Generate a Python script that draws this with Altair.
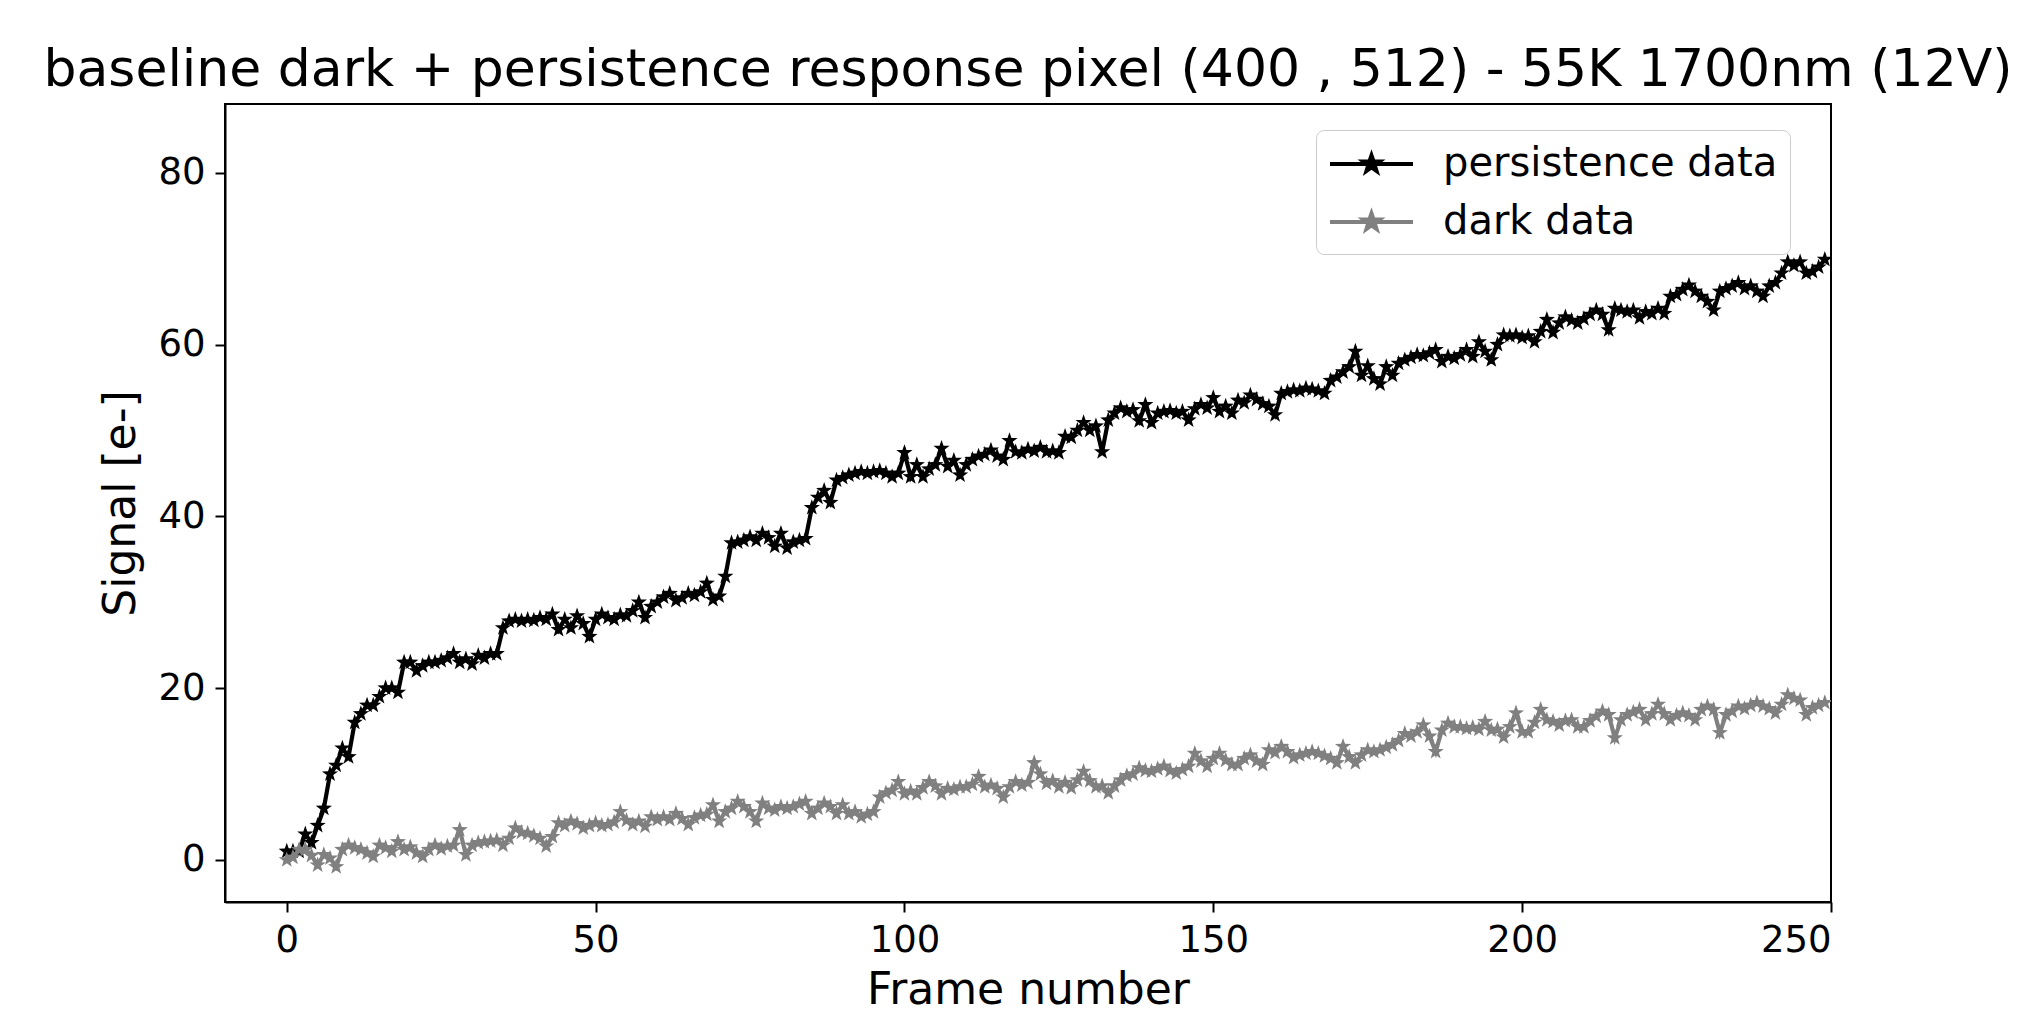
import altair as alt
import pandas as pd

series_names = ["\u2002persistence data", "dark data"]
series_colors = ["#000000", "#808080"]

x_ticks = [0, 50, 100, 150, 200, 250]
y_ticks = [0, 20, 40, 60, 80]

frames = list(range(250))

persistence = [
    1, 1, 1, 3, 2, 4, 6, 10, 11, 13,
    12, 16, 17, 18, 18, 19, 20, 20, 19.5, 23,
    23, 22, 22.6, 23, 23, 23.2, 23.5, 24, 23, 23.4,
    22.8, 23.8, 23.5, 24, 24, 27, 27.8, 28, 27.8, 28,
    27.9, 28.2, 28, 28.6, 26.8, 28, 27, 28.4, 27.5, 26,
    28, 28.6, 28.2, 28, 28.5, 28.4, 29, 30, 28.2, 29.5,
    30, 30.6, 31, 30.2, 30.5, 31, 30.8, 31.2, 32.2, 30.3,
    30.7, 33, 36.9, 37, 37.2, 37.6, 37.2, 38, 37.5, 36.5,
    38, 36.3, 37, 37.2, 37.4, 41, 42.2, 43, 41.6, 44.2,
    44.5, 44.8, 45, 45.2, 45, 45.2, 45.3, 45, 44.6, 45,
    47.4, 44.6, 46, 44.6, 45.5, 46, 47.9, 45.8, 46.5, 44.8,
    46, 46.6, 47, 47.2, 47.7, 47, 46.6, 48.8, 47.5, 47.4,
    47.8, 47.6, 48, 47.5, 47.6, 47.4, 49.3, 49.2, 50, 50.9,
    50, 50.5, 47.5, 51.2, 52, 52.6, 52.2, 52.4, 51.1, 53,
    50.9, 52, 52.2, 52.3, 52, 52.2, 51.2, 52.5, 53, 52.6,
    53.8, 52.2, 52.8, 52, 53.5, 53.2, 54.1, 53.6, 53.1, 52.8,
    51.8, 54.3, 54.5, 54.7, 54.6, 54.9, 54.8, 54.6, 54.3, 55.8,
    56.2, 56.8, 57.4, 59.2, 56.4, 57.5, 56, 55.4, 57.4, 56.4,
    57.8, 58.2, 58.5, 58.8, 58.7, 59, 59.4, 58, 58.6, 58.4,
    58.8, 59.4, 58.6, 60.3, 59.2, 58.2, 60, 61.1, 61, 61.1,
    60.8, 61, 60.3, 61.5, 62.9, 61.4, 62.5, 63.2, 62.8, 62.5,
    63, 63.5, 64, 63.5, 61.7, 64.2, 64, 63.8, 64, 63.1,
    63.8, 63.6, 64.2, 63.6, 65.6, 65.8, 66.4, 66.9, 66.2, 65.6,
    65, 64, 66.2, 66.5, 66.8, 67.2, 66.5, 66.8, 66.2, 65.6,
    66.8, 67.2, 68.3, 69.6, 69.2, 69.6, 68.3, 68.5, 69, 69.9,
]

dark = [
    0, 0.3, 1.2, 1.2, 0.5, -0.6, 0.6, 0.2, -0.8, 1.2,
    1.7, 1.4, 1.2, 0.8, 0.4, 1.7, 1.4, 1, 2.1, 1.2,
    1.5, 0.8, 0.4, 1.2, 1.7, 1.3, 1.6, 1.7, 3.5, 0.6,
    1.7, 2, 2.1, 2.2, 2.3, 1.7, 2.5, 3.7, 3.2, 3.1,
    2.8, 2.5, 1.6, 2.7, 4.3, 4, 4.5, 4.2, 3.7, 4,
    4.3, 4, 4.1, 4.4, 5.6, 4.6, 4.1, 4.5, 3.9, 5,
    4.7, 5, 4.7, 5.4, 4.8, 4.1, 4.9, 5.2, 5.3, 6.4,
    4.5, 5.6, 6, 6.8, 6.2, 5.6, 4.5, 6.6, 6, 5.8,
    6.2, 6, 6.2, 6.5, 6.8, 5.4, 6, 6.6, 6.2, 5.4,
    6.4, 5.4, 5.6, 5, 5.3, 5.6, 7.3, 7.8, 8.1, 9.1,
    7.7, 8, 7.7, 8.4, 9.1, 8.6, 7.7, 8.3, 8.2, 8.5,
    8.5, 8.8, 9.7, 8.5, 8.7, 8.3, 7.3, 8.5, 9.1, 8.7,
    9, 11.3, 10, 8.9, 9.2, 8.5, 9, 8.4, 9.3, 10.3,
    9.2, 8.5, 8.6, 7.8, 8.6, 9.3, 9.8, 10, 10.7, 10.4,
    10.3, 10.6, 10.9, 10.4, 10.1, 10.5, 10.9, 12.4, 11.5, 10.9,
    11.8, 12.4, 11.6, 11.1, 11.1, 11.8, 12.2, 11.5, 11.1, 12.8,
    12.5, 13.2, 12.6, 11.9, 12.2, 12.4, 12.6, 12.4, 12.1, 11.8,
    11.3, 13.2, 12, 11.3, 12.2, 12.8, 12.6, 12.8, 13.1, 13.4,
    13.9, 14.7, 14.4, 14.9, 15.7, 14.4, 12.6, 15.1, 15.9, 15.5,
    15.5, 15.3, 15.4, 15.2, 16.1, 15.1, 15.2, 14.3, 15.5, 17.1,
    14.9, 14.9, 16, 17.5, 16.3, 16.1, 15.7, 16.2, 16.3, 15.5,
    15.5, 16.2, 16.7, 17.3, 16.9, 14.2, 16.3, 16.9, 17.2, 17.5,
    16.3, 17, 18.1, 17, 16.3, 16.8, 17.1, 16.8, 16.3, 17.5,
    17.9, 17.5, 14.8, 16.9, 17.3, 17.9, 17.6, 18, 18.3, 17.9,
    17.6, 17.1, 18.1, 19.2, 18.8, 18.6, 16.9, 17.7, 18, 18.3,
]

df = pd.DataFrame({
    "frame": frames + frames,
    "signal": persistence + dark,
    "series": [series_names[0]] * len(frames) + [series_names[1]] * len(frames),
})

FONT = "DejaVu Sans"

# five-pointed star in unit coordinates (-1..1)
STAR = ("M0,-1L0.235,-0.324L0.951,-0.309L0.380,0.124L0.588,0.809L0,0.4"
        "L-0.588,0.809L-0.380,0.124L-0.951,-0.309L-0.235,-0.324Z")
# legend glyph: a line with a star in its middle (unit = sqrt(size)/2)
LEGEND_GLYPH = (
    "M-1,0L3.15,0"
    "M1.075,-0.43L1.176,-0.139L1.484,-0.133L1.238,0.053L1.328,0.348L1.075,0.172"
    "L0.822,0.348L0.912,0.053L0.666,-0.133L0.974,-0.139Z"
)

x_enc = alt.X(
    "frame:Q",
    scale=alt.Scale(domain=[-10, 250], nice=False, zero=False),
    axis=alt.Axis(values=x_ticks, title="Frame number", titleY=88,
                  titleBaseline="middle", format="d"),
)
y_enc = alt.Y(
    "signal:Q",
    scale=alt.Scale(domain=[-4.9, 88], nice=False, zero=False),
    axis=alt.Axis(values=y_ticks, title="Signal [e-]", titleX=-104,
                  titleY=399, titleBaseline="middle", format="d"),
)
color_enc = alt.Color(
    "series:N",
    scale=alt.Scale(domain=series_names, range=series_colors),
    legend=alt.Legend(
        title=None,
        orient="none",
        legendX=1091,
        legendY=26,
        symbolType=LEGEND_GLYPH,
        symbolSize=1600,
        symbolStrokeWidth=4,
        labelFont=FONT,
        labelFontSize=40,
        labelColor="black",
        labelLimit=0,
        labelOffset=71,
        rowPadding=16,
        padding=12,
        fillColor="white",
        strokeColor="#cccccc",
        cornerRadius=8,
    ),
)

base = alt.Chart(df).encode(x=x_enc, y=y_enc, color=color_enc)

layers = []
for name in series_names:
    sub = base.transform_filter(alt.datum.series == name)
    layers.append(sub.mark_line(strokeWidth=4.2, clip=True))
    layers.append(sub.mark_point(shape=STAR, filled=True, size=290,
                                 opacity=1, strokeWidth=3, clip=True))

chart = alt.layer(*layers).properties(
    width=1606,
    height=798,
    title=alt.Title(
        "baseline dark + persistence response pixel (400 , 512) - 55K 1700nm (12V)",
        font=FONT, fontSize=52, fontWeight="normal", color="black",
        anchor="middle", offset=7,
    ),
    autosize=alt.AutoSizeParams(type="none"),
    padding={"left": 225, "top": 104, "right": 212, "bottom": 112},
).configure(
    background="white"
).configure_view(
    stroke="black", strokeWidth=2
).configure_axis(
    grid=False,
    domainColor="black", domainWidth=2,
    tickColor="black", tickWidth=2, tickSize=10,
    labelFont=FONT, labelFontSize=37, labelColor="black", labelPadding=10,
    titleFont=FONT, titleFontSize=44, titleFontWeight="normal", titleColor="black",
)

chart.save("out.html", embed_options={"renderer": "svg", "actions": False})
